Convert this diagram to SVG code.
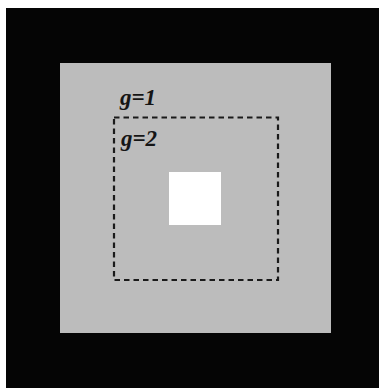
<svg xmlns="http://www.w3.org/2000/svg" width="379" height="388" viewBox="0 0 379 388">
<style>
.lbl{font-family:"Liberation Serif","DejaVu Serif",serif;font-style:italic;font-weight:bold;font-size:23px;fill:#151515}
</style>
<rect width="379" height="388" fill="#ffffff"/>
<g id="outer"><rect x="6" y="8" width="373" height="380" fill="#050505"/></g>
<g id="gray"><rect x="60" y="63" width="271" height="270" fill="#bcbcbc"/></g>
<g id="g1label"><text class="lbl" x="120" y="105">g=1</text></g>
<g id="dashed"><rect x="114" y="117.5" width="164" height="162.5" fill="none" stroke="#1a1a1a" stroke-width="2.2" stroke-dasharray="5.5,4"/></g>
<g id="g2label"><text class="lbl" x="121" y="146">g=2</text></g>
<g id="center"><rect x="169" y="172" width="52" height="53" fill="#ffffff"/></g>
</svg>
